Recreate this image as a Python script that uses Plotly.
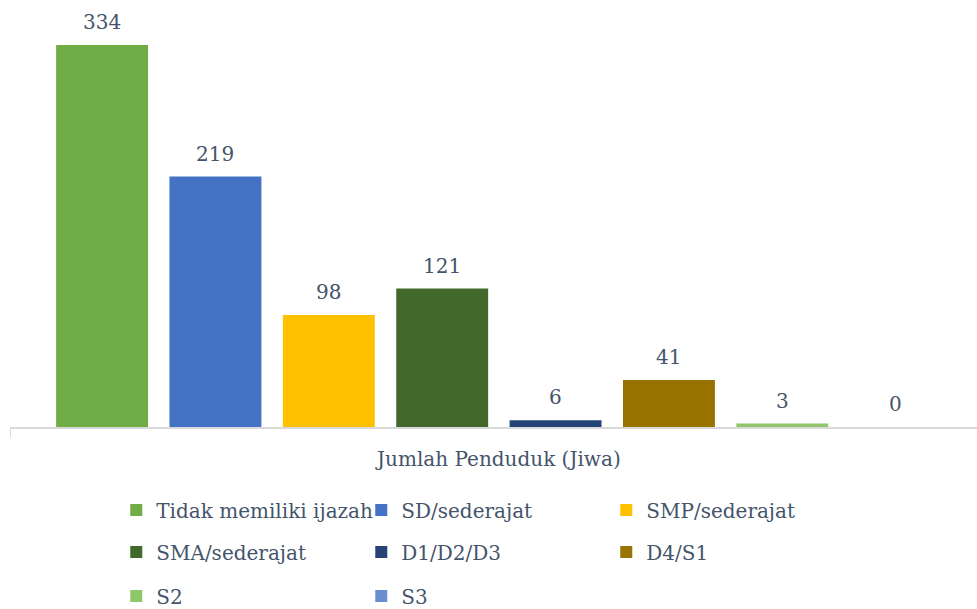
import plotly.graph_objects as go

# Data
category = ['Jumlah Penduduk (Jiwa)']
series_names = ['Tidak memiliki ijazah', 'SD/sederajat', 'SMP/sederajat',
                'SMA/sederajat', 'D1/D2/D3', 'D4/S1', 'S2', 'S3']
series_values = [334, 219, 98, 121, 6, 41, 3, 0]
series_colors = ['#70AD47', '#4472C4', '#FFC000', '#43682B',
                 '#264478', '#997300', '#8FC66A', '#698ED0']
legend_rows = ['legend', 'legend', 'legend', 'legend2', 'legend2', 'legend2',
               'legend3', 'legend3']

FONT = 'DejaVu Serif'
TXT = '#44546A'

W, H = 977, 609
ML, MR, MT, MB = 10, 0, 0, 182
X_RANGE = [-0.5, 0.489]
BARGAP = 0.0724
BARGROUPGAP = 0.189

fig = go.Figure()
for name, val, col, lg in zip(series_names, series_values, series_colors, legend_rows):
    fig.add_trace(go.Bar(
        x=category,
        y=[val],
        name=name,
        marker=dict(color=col, line=dict(width=0)),
        cliponaxis=False,
        legend=lg,
    ))

# value labels above each bar (offset sideways to its slot in the group)
px_per_unit = (W - ML - MR) / (X_RANGE[1] - X_RANGE[0])
slot = (1 - BARGAP) * px_per_unit / len(series_values)
for i, val in enumerate(series_values):
    fig.add_annotation(
        x=category[0], y=val, text=str(val),
        xshift=(i - (len(series_values) - 1) / 2) * slot,
        yanchor='bottom', yshift=9, showarrow=False,
        font=dict(family=FONT, size=20, color=TXT),
    )

legend_common = dict(
    orientation='h',
    xref='container', x=0.119, xanchor='left',
    yref='container', yanchor='middle',
    entrywidth=200, entrywidthmode='pixels',
    font=dict(family=FONT, size=20, color=TXT),
    bgcolor='rgba(0,0,0,0)',
)

fig.update_layout(
    width=W,
    height=H,
    margin=dict(l=ML, r=MR, t=MT, b=MB),
    plot_bgcolor='white',
    paper_bgcolor='white',
    barmode='group',
    bargap=BARGAP,
    bargroupgap=BARGROUPGAP,
    xaxis=dict(
        type='category',
        range=X_RANGE,
        showline=True, linecolor='#D9D9D9', linewidth=1.5,
        ticks='outside', tickson='boundaries', ticklen=8, tickcolor='#D9D9D9',
        ticklabelstandoff=13,
        tickfont=dict(family=FONT, size=20, color=TXT),
        showgrid=False, zeroline=False, automargin=False,
    ),
    yaxis=dict(range=[0, 373.3], visible=False, showgrid=False),
    showlegend=True,
    legend=dict(legend_common, y=1 - 510 / H),
    legend2=dict(legend_common, y=1 - 552 / H),
    legend3=dict(legend_common, y=1 - 596 / H),
)

fig.write_html('out.html', config={'displayModeBar': False},
               post_script="document.body.style.margin='0';")
